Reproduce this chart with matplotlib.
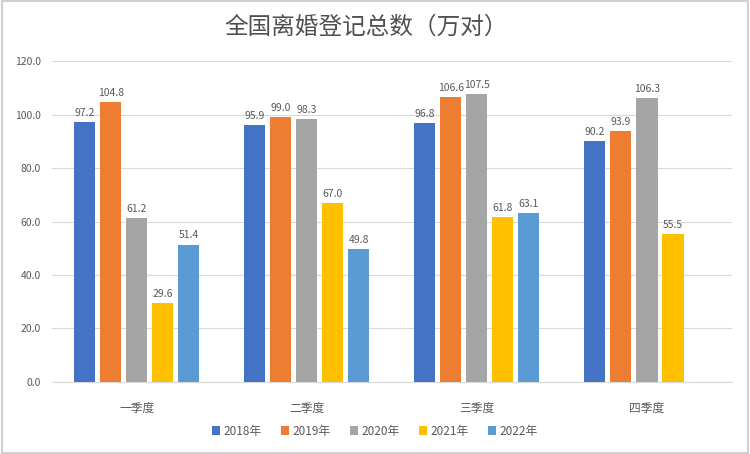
import matplotlib
matplotlib.use("Agg")
import matplotlib.pyplot as plt
import numpy as np

plt.rcParams['font.family'] = ['Noto Sans CJK SC', 'DejaVu Sans']

categories = ["一季度", "二季度", "三季度", "四季度"]
years = ["2018年", "2019年", "2020年", "2021年", "2022年"]
v2018 = [97.2, 95.9, 96.8, 90.2]
v2019 = [104.8, 99.0, 106.6, 93.9]
v2020 = [61.2, 98.3, 107.5, 106.3]
v2021 = [29.6, 67.0, 61.8, 55.5]
v2022 = [51.4, 49.8, 63.1, None]
series = [v2018, v2019, v2020, v2021, v2022]
colors = ["#4472C4", "#ED7D31", "#A5A5A5", "#FFC000", "#5B9BD5"]
yticks = [0, 20, 40, 60, 80, 100, 120]

fig = plt.figure(figsize=(7.5, 4.54), dpi=100)
ax = fig.add_axes([0.069, 0.1586, 0.907, 0.707])

x = np.arange(len(categories))
pitch = 0.153
width = 0.124
for i, (vals, c, lab) in enumerate(zip(series, colors, years)):
    xs = [xi + (i - 2) * pitch for xi, v in zip(x, vals) if v is not None]
    vs = [v for v in vals if v is not None]
    bars = ax.bar(xs, vs, width=width, color=c, label=lab, zorder=3)
    for b, v in zip(bars, vs):
        ax.text(b.get_x() + b.get_width() / 2, v + 1.5, f"{v:.1f}",
                ha="center", va="bottom", fontsize=7.5, color="#595959")

ax.set_xlim(-0.5, 3.5)
ax.set_ylim(0, 120)
ax.set_yticks(yticks)
ax.set_yticklabels([f"{t:.1f}" for t in yticks], fontsize=7.5, color="#595959")
ax.set_xticks(x)
ax.set_xticklabels(categories, fontsize=8.5, color="#595959")
ax.tick_params(axis="y", length=0, pad=8)
ax.tick_params(axis="x", length=0, pad=14)
ax.grid(axis="y", color="#D9D9D9", linewidth=0.8, zorder=0)
for s in ["top", "right", "left"]:
    ax.spines[s].set_visible(False)
ax.spines["bottom"].set_color("#D9D9D9")

fig.text(0.488, 0.94, "全国离婚登记总数（万对）", ha="center", va="center",
         fontsize=17, color="#505050")

ax.legend(loc="upper center", bbox_to_anchor=(0.475, -0.1), ncol=5, frameon=False,
          fontsize=8.5, handlelength=0.7, handleheight=0.7, handletextpad=0.3,
          columnspacing=1.6, labelcolor="#595959")

fig.patches.append(plt.Rectangle((0.003, 0.003), 0.994, 0.994, transform=fig.transFigure,
                                 fill=False, edgecolor="#D0D0D0", linewidth=1.5))

fig.savefig("out.png", dpi=100)
